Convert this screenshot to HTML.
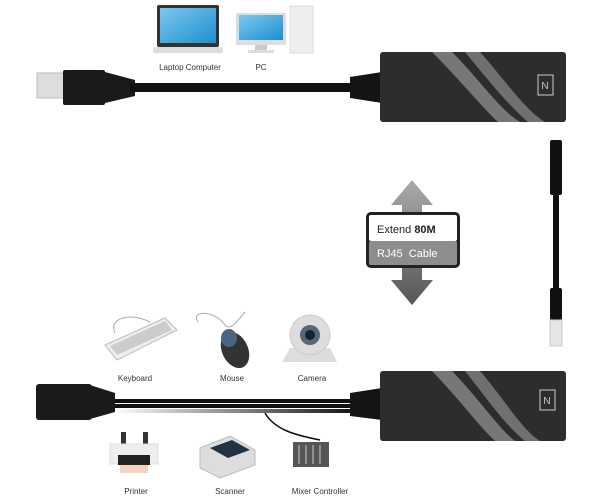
<!DOCTYPE html>
<html><head><meta charset="utf-8"><style>
html,body{margin:0;padding:0;background:#fff;}
svg{display:block;font-family:"Liberation Sans",sans-serif;}
</style></head><body>
<svg width="600" height="499" viewBox="0 0 600 499" xmlns="http://www.w3.org/2000/svg">
<defs>
<linearGradient id="arr" x1="0" y1="0" x2="0" y2="1"><stop offset="0" stop-color="#aaa"/><stop offset="1" stop-color="#555"/></linearGradient>
<linearGradient id="scr" x1="0" y1="0" x2="1" y2="1"><stop offset="0" stop-color="#7cc8ee"/><stop offset="1" stop-color="#1e8fd0"/></linearGradient>
<linearGradient id="fade" x1="0" y1="0" x2="1" y2="0"><stop offset="0" stop-color="#fff"/><stop offset="1" stop-color="#111"/></linearGradient>
</defs>
<!-- Laptop -->
<rect x="157" y="5" width="62" height="42" rx="2" fill="#333"/>
<rect x="160" y="8" width="56" height="35" fill="url(#scr)"/>
<rect x="153" y="47" width="70" height="6" rx="2" fill="#ddd"/>
<text x="190" y="70" font-size="8" text-anchor="middle" fill="#333">Laptop Computer</text>
<!-- PC -->
<rect x="236" y="13" width="50" height="32" fill="#ddd"/>
<rect x="239" y="15" width="44" height="25" fill="url(#scr)"/>
<rect x="255" y="45" width="12" height="5" fill="#ccc"/>
<rect x="248" y="50" width="26" height="3" fill="#ddd"/>
<rect x="290" y="6" width="23" height="47" fill="#eee" stroke="#ddd"/>
<text x="261" y="70" font-size="8" text-anchor="middle" fill="#333">PC</text>
<!-- Top USB -->
<rect x="37" y="73" width="27" height="25" fill="#ddd" stroke="#bbb"/>
<rect x="63" y="70" width="42" height="35" rx="2" fill="#1a1a1a"/>
<path d="M105 72 L135 80 L135 96 L105 103Z" fill="#1a1a1a"/>
<rect x="130" y="83" width="225" height="9" fill="#111"/>
<path d="M350 77 L382 72 L382 103 L350 98Z" fill="#151515"/>
<!-- Top box -->
<rect x="380" y="52" width="186" height="70" rx="3" fill="#2d2d2d"/>
<path d="M432 52 L452 52 C480 80 500 110 520 122 L498 122 C480 105 460 80 432 52Z" fill="#777"/>
<path d="M465 52 L480 52 C505 80 525 110 545 122 L528 122 C508 105 488 80 465 52Z" fill="#707070"/>
<rect x="538" y="75" width="15" height="20" fill="none" stroke="#ccc" stroke-width="1"/>
<text x="545" y="89" font-size="10" fill="#ccc" text-anchor="middle">N</text>
<!-- Arrow -->
<path d="M412 180 L433 205 L422 205 L422 280 L433 280 L412 305 L391 280 L402 280 L402 205 L391 205Z" fill="url(#arr)"/>
<rect x="366" y="212" width="94" height="56" rx="5" fill="#222"/>
<rect x="369" y="215" width="88" height="26" rx="2" fill="#fff"/>
<rect x="369" y="241" width="88" height="24" rx="2" fill="#8d8d8d"/>
<text x="377" y="233" font-size="11" fill="#222">Extend <tspan font-weight="bold">80M</tspan></text>
<text x="377" y="257" font-size="11" fill="#fff">RJ45&#160; Cable</text>
<!-- RJ45 cable -->
<rect x="550" y="140" width="12" height="55" rx="2" fill="#111"/>
<rect x="553" y="195" width="6" height="95" fill="#111"/>
<rect x="550" y="288" width="12" height="32" rx="2" fill="#111"/>
<rect x="550" y="320" width="12" height="26" fill="#e5e5e5" stroke="#ccc"/>
<!-- Keyboard -->
<path d="M115 333 C108 318 130 312 150 322" stroke="#aaa" fill="none"/>
<path d="M105 345 L165 318 L177 330 L117 360Z" fill="#eee" stroke="#bbb"/>
<path d="M110 346 L165 321 L172 330 L117 355Z" fill="#ccc"/>
<text x="135" y="381" font-size="8" text-anchor="middle" fill="#333">Keyboard</text>
<!-- Mouse -->
<path d="M198 322 C190 310 215 310 225 325 C230 332 240 318 245 312" stroke="#aaa" fill="none"/>
<ellipse cx="235" cy="350" rx="13" ry="19" transform="rotate(-25 235 350)" fill="#333"/>
<ellipse cx="229" cy="338" rx="8" ry="9" fill="#4a6680"/>
<text x="232" y="381" font-size="8" text-anchor="middle" fill="#333">Mouse</text>
<!-- Camera -->
<path d="M282 362 L337 362 L330 348 L290 348Z" fill="#ddd"/>
<circle cx="310" cy="335" r="20" fill="#ddd" stroke="#ccc"/>
<circle cx="310" cy="335" r="10" fill="#567"/>
<circle cx="310" cy="335" r="5" fill="#123"/>
<text x="312" y="381" font-size="8" text-anchor="middle" fill="#333">Camera</text>
<!-- Bottom USB female -->
<rect x="36" y="384" width="56" height="36" rx="3" fill="#1a1a1a"/>
<path d="M90 385 L115 393 L115 412 L90 419Z" fill="#1a1a1a"/>
<rect x="115" y="399" width="240" height="4" fill="#111"/>
<rect x="115" y="404" width="240" height="4" fill="#111"/>
<rect x="115" y="409" width="240" height="4" fill="url(#fade)"/>
<path d="M265 413 C275 430 295 435 320 440" stroke="#111" fill="none" stroke-width="1.5"/>
<path d="M350 393 L382 388 L382 420 L350 416Z" fill="#151515"/>
<!-- Bottom box -->
<rect x="380" y="371" width="186" height="70" rx="3" fill="#2d2d2d"/>
<path d="M432 371 L452 371 C480 400 500 430 515 441 L495 441 C478 425 460 400 432 371Z" fill="#777"/>
<path d="M465 371 L480 371 C505 400 522 430 540 441 L525 441 C505 425 488 400 465 371Z" fill="#707070"/>
<rect x="540" y="390" width="15" height="20" fill="none" stroke="#ccc"/>
<text x="547" y="404" font-size="10" fill="#ccc" text-anchor="middle">N</text>
<!-- Printer -->
<rect x="121" y="432" width="5" height="12" fill="#333"/><rect x="143" y="432" width="5" height="12" fill="#333"/>
<rect x="110" y="444" width="48" height="20" fill="#eee" stroke="#ddd"/>
<rect x="118" y="455" width="32" height="10" fill="#222"/>
<rect x="120" y="465" width="28" height="8" fill="#f3d3c0"/>
<text x="136" y="494" font-size="8" text-anchor="middle" fill="#333">Printer</text>
<!-- Scanner -->
<path d="M200 448 L230 436 L255 450 L255 465 L220 478 L200 468Z" fill="#ddd" stroke="#bbb"/>
<path d="M210 448 L232 440 L250 450 L228 458Z" fill="#234"/>
<text x="230" y="494" font-size="8" text-anchor="middle" fill="#333">Scanner</text>
<!-- Mixer -->
<rect x="293" y="442" width="36" height="25" fill="#555"/>
<g stroke="#ccc"><line x1="299" y1="445" x2="299" y2="464"/><line x1="306" y1="445" x2="306" y2="464"/><line x1="313" y1="445" x2="313" y2="464"/><line x1="320" y1="445" x2="320" y2="464"/></g>
<text x="320" y="494" font-size="8" text-anchor="middle" fill="#333">Mixer Controller</text>
</svg>
</body></html>
